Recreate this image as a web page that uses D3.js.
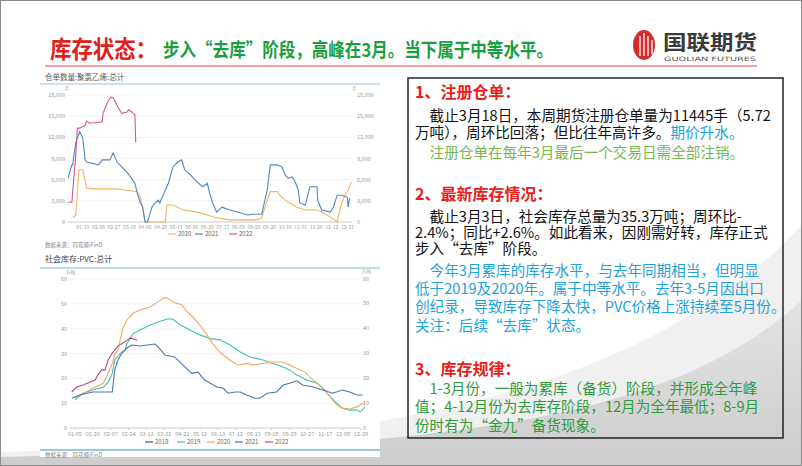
<!DOCTYPE html>
<html><head><meta charset="utf-8">
<script src="https://cdn.jsdelivr.net/npm/d3@7"></script>
<style>body{margin:0;background:#fff}svg{display:block}</style>
</head><body>
<svg id="c" width="802" height="466"></svg>
<script>
// ---------- DATA ----------
// Top chart: 仓单数量:聚氯乙烯:总计 (x = position in days along the seasonal axis)
const topXLabels = ["01-19","02-08","02-27","03-18","04-06","04-28","05-17","06-08","06-28","07-17","08-09","08-28","09-20","10-10","11-01","11-20","12-12","12-31"];
const topYTicks = [0,3000,6000,9000,12000,15000,18000];
const top2020Days = [6,10,12,14,19,24,32,63,76,89,93,96,99,125,127,135,148,166,179,191,208,243,249,256,260,269,272,279,285,294,305,320,328,337,343,346,350,353,357,360,364];
const top2020Vals = [600,1000,4100,7400,7400,4800,4700,4700,4500,4300,3500,2100,0,0,2400,2400,1700,1400,1000,600,300,300,600,3100,4300,4300,3800,3100,2700,2100,1700,1700,1300,700,300,0,2000,3100,4100,4500,5700];
const top2021Days = [0,5,6,10,15,19,22,24,28,39,44,54,58,63,69,77,86,89,93,96,99,102,108,112,116,118,125,129,135,141,146,150,157,166,173,179,182,186,191,198,208,221,231,238,249,251,256,260,269,275,279,283,288,292,296,298,305,311,320,321,326,337,341,346,352,359,360,362];
const top2021Vals = [6200,8100,8100,11300,12800,11900,8800,8500,8400,8100,8800,8800,9800,8500,7800,6900,5500,4100,2700,2100,0,0,2100,2700,3100,2700,4500,5500,7800,8500,8800,7400,6700,5700,5000,5500,4100,2700,1400,2100,1700,1300,1000,1100,1100,2100,4500,8100,8100,7800,6700,6200,6400,5700,4500,2700,2400,5000,5000,3100,1700,1400,2100,3800,3800,3500,2100,3400];
const top2022Days = [0,5,6,10,12,15,22,24,28,44,45,51,55,58,64,69,76,78,82,86,87];
const top2022Vals = [2800,2800,4300,9500,13300,13300,13700,14300,14000,14200,15400,17000,17700,17600,16300,15400,15600,15900,15600,15200,11300];

// Bottom chart: 社会库存:PVC:总计 (万吨)
const botXLabels = ["01-05","01-20","02-07","02-24","03-13","03-31","04-21","05-12","06-13","07-12","08-15","09-08","09-29","10-27","11-17","12-08","12-29"];
const botYTicks = [0,10,20,30,40,50,60];
const bot2018Days = [];
const bot2018Vals = [];
const bot2019Days = [5,9,15,27,40,46,51,54,61,67,69,77,85,98,110,120,126,135,147,159,172,184,196,209,221,237,249,262,270,279,291,304,311,320,328,335,344,353,357,363];
const bot2019Vals = [11.3,12.5,14,15.3,16.5,18.5,22,27.4,30,31.4,34,38,39.5,41.5,43,44,43.8,41.5,39.5,37.5,36,35.5,33.5,30.6,28.6,27.4,26,24.6,23.4,21.3,19.3,18,16,12.5,10,8,7.2,7.2,6.4,8.5];
const bot2020Days = [5,11,27,40,45,51,54,58,64,69,77,85,98,107,114,119,126,137,143,151,159,168,175,184,196,206,217,225,237,249,261,270,279,289,299,310,320,328,335,344,353,363];
const bot2020Vals = [12,13.3,16,18,21.3,26,29.4,31.4,40,43.5,46.3,47.5,48.7,50.7,52.3,52.3,50.7,49.5,47,44.5,41.5,37.5,34,30.5,27.4,25.4,26,25.4,26,26.6,26.6,25.4,24,22.5,19.3,16.5,12.5,9.3,8,7.6,8.5,10.5];
const bot2021Days = [1,11,27,40,51,54,58,63,69,75,85,94,104,110,116,128,138,149,157,165,180,188,194,203,209,217,227,233,242,254,262,270,279,286,299,311,323,335,344,353,360];
const bot2021Vals = [12,13.3,14.5,14.5,14.5,23.4,27.4,30.2,32.2,33.4,33,33.4,33.8,31.8,29.4,28.6,25.4,22,22.5,19.3,16.5,16,14,14.5,14.5,13.3,12,12,14,14.5,17.3,18,19,17.3,16.5,15.3,14,15.3,14.5,13.3,13.3];
const bot2022Days = [1,7,15,24,30,33,38,42,46,51,58,66,73,82];
const bot2022Vals = [14.5,16.5,17.3,18.5,19.3,21.3,23.4,23.4,27.4,30.2,33,34.6,36.2,35.3];

// ---------- DRAW ----------
const svg = d3.select('#c');
const FONT = '"Noto Sans CJK SC","Noto Sans",sans-serif';
const defs = svg.append('defs');
const gb = defs.append('linearGradient').attr('id','band').attr('x1',0).attr('y1',0).attr('x2',0).attr('y2',1);
gb.append('stop').attr('offset',0).attr('stop-color','#e3e3e3');
gb.append('stop').attr('offset',1).attr('stop-color','#cdcdcd');

// decorative gray bands
svg.append('path').attr('d','M0,466 L0,452 C350,446 640,400 802,225 L802,466 Z').attr('fill','#f0f0f0');
svg.append('path').attr('d','M0,466 L0,457 C400,447 660,432 802,300 L802,466 Z').attr('fill','url(#band)');

// left panel white
svg.append('rect').attr('x',40).attr('y',70).attr('width',340).attr('height',387).attr('fill','#fff');

// Title
svg.append('text').attr('x',50).attr('y',58).attr('font-family',FONT).attr('font-size',24).attr('font-weight','bold')
  .attr('fill','#e0201c').attr('textLength',107).attr('lengthAdjust','spacingAndGlyphs').text('库存状态：');
svg.append('text').attr('x',163).attr('y',57).attr('font-family',FONT).attr('font-size',19).attr('font-weight','bold')
  .attr('fill','#18a040').attr('textLength',390).attr('lengthAdjust','spacingAndGlyphs').text('步入“去库”阶段，高峰在3月。当下属于中等水平。');
svg.append('line').attr('x1',45).attr('x2',757).attr('y1',66).attr('y2',66).attr('stroke','#f0a0a0').attr('stroke-width',2);

// Logo
svg.append('ellipse').attr('cx',644).attr('cy',45).attr('rx',11).attr('ry',15).attr('fill','#d52a2e');
[[640,36,56],[644,33,56],[648,36,56],[652,40,54]].forEach(d=>{
  svg.append('line').attr('x1',d[0]).attr('x2',d[0]).attr('y1',d[1]).attr('y2',d[2]).attr('stroke','#fff').attr('stroke-width',1.3);
});
svg.append('text').attr('x',663).attr('y',50).attr('font-family',FONT).attr('font-size',20).attr('font-weight','bold')
  .attr('fill','#3a3a3a').attr('textLength',94).attr('lengthAdjust','spacingAndGlyphs').text('国联期货');
svg.append('text').attr('x',664).attr('y',61).attr('font-family','"DejaVu Sans",sans-serif').attr('font-size',6)
  .attr('fill','#555').attr('textLength',92).attr('lengthAdjust','spacingAndGlyphs').text('GUOLIAN FUTURES');

function legend(x, y, color, label){
  svg.append('line').attr('x1',x).attr('x2',x+8).attr('y1',y-2).attr('y2',y-2).attr('stroke',color).attr('stroke-width',1.2);
  svg.append('text').attr('x',x+10).attr('y',y).attr('font-family',FONT).attr('font-size',6).attr('fill','#666').text(label);
}
const small = (x,y,t,anchor,size,fill)=>svg.append('text').attr('x',x).attr('y',y).attr('text-anchor',anchor||'start')
  .attr('font-family',FONT).attr('font-size',size||5.5).attr('fill',fill||'#999').text(t);

// ---- top chart ----
small(45,80,'仓单数量:聚氯乙烯:总计','start',7.5,'#555');
svg.append('line').attr('x1',40).attr('x2',380).attr('y1',84).attr('y2',84).attr('stroke','#9cc3d5').attr('stroke-width',1.2);
const xT = d3.scaleLinear().domain([0,365]).range([68,352]);
const yT = d3.scaleLinear().domain([0,18000]).range([222,95]);
const fmt = d3.format(',');
topYTicks.forEach(v=>{
  svg.append('line').attr('x1',68).attr('x2',352).attr('y1',yT(v)).attr('y2',yT(v)).attr('stroke', v===0?'#bbb':'#f0f0f0').attr('stroke-width',0.8);
  small(65,yT(v)+2,fmt(v),'end',5.5);
  small(357,yT(v)+2,fmt(v),'start',5.5);
});
small(69,90,'手','end',4.5); small(352,90,'手','start',4.5);
const topStep = (359-19)/(topXLabels.length-1);
topXLabels.forEach((l,i)=>small(xT(19+i*topStep),229,l,'middle',5));
const lineT = d3.line().x(d=>xT(d[0])).y(d=>yT(d[1]));
const topSeries = [[top2020Days,top2020Vals,'#f5b462'],[top2021Days,top2021Vals,'#4f86c0'],[top2022Days,top2022Vals,'#d6588f']];
topSeries.forEach(s=>{
  svg.append('path').datum(d3.zip(s[0],s[1])).attr('d',lineT).attr('fill','none').attr('stroke',s[2]).attr('stroke-width',1.1);
});
legend(168,236,'#f5b462','2020'); legend(195,236,'#4f86c0','2021'); legend(229,236,'#d6588f','2022');
small(45,247,'数据来源：同花顺iFinD','start',5.5,'#888');

// ---- bottom chart ----
small(45,262,'社会库存:PVC:总计','start',8,'#444');
svg.append('line').attr('x1',40).attr('x2',380).attr('y1',268).attr('y2',268).attr('stroke','#7dbfcc').attr('stroke-width',1.2);
const xB = d3.scaleLinear().domain([5,363]).range([75,365]);
const yB = d3.scaleLinear().domain([0,60]).range([428,279]);
botYTicks.forEach(v=>{
  svg.append('line').attr('x1',70).attr('x2',360).attr('y1',yB(v)).attr('y2',yB(v)).attr('stroke', v===0?'#bbb':'#f0f0f0').attr('stroke-width',0.8);
  small(67,yB(v)+2,String(v),'end',5.5);
  small(363,yB(v)+1.5,String(v),'start',5.5);
});
small(66,274,'万吨','start',4.5); small(362,273,'万吨','start',4.5);
const botStep = (358-5)/(botXLabels.length-1);
botXLabels.forEach((l,i)=>{
  const x = xB(5+i*botStep);
  svg.append('line').attr('x1',x).attr('x2',x).attr('y1',428).attr('y2',430).attr('stroke','#bbb').attr('stroke-width',0.6);
  small(x,436,l,'middle',5.5);
});
const lineB = d3.line().x(d=>xB(d[0])).y(d=>yB(d[1]));
const botSeries = [[bot2018Days,bot2018Vals,'#3f4a9a','2018'],[bot2019Days,bot2019Vals,'#3fc0b2','2019'],[bot2020Days,bot2020Vals,'#f2a860','2020'],[bot2021Days,bot2021Vals,'#4a77b0','2021'],[bot2022Days,bot2022Vals,'#c2447c','2022']];
botSeries.forEach(s=>{
  if(!s[0].length) return;
  svg.append('path').datum(d3.zip(s[0],s[1])).attr('d',lineB).attr('fill','none').attr('stroke',s[2]).attr('stroke-width',1.1);
});
const legX = [145,177,207,235,265];
botSeries.forEach((s,i)=>legend(legX[i],444,s[2],s[3]));
svg.append('line').attr('x1',40).attr('x2',380).attr('y1',450).attr('y2',450).attr('stroke','#7ab2dc').attr('stroke-width',1.5);
small(45,456.5,'数据来源：同花顺iFinD','start',5.5,'#888');

// ---- text box ----
svg.append('rect').attr('x',408).attr('y',78).attr('width',375).attr('height',360).attr('fill','none').attr('stroke','#222').attr('stroke-width',1.5);
const RED='#e8201c', BLK='#111', BLUE='#22a2dc', LG='#76b650', GR='#2f9a3e';
const boxLines = [
  [98,true,[['1、注册仓单：',RED]]],
  [121,false,[['　截止3月18日，本周期货注册仓单量为11445手（5.72',BLK]]],
  [138,false,[['万吨），周环比回落；但比往年高许多。',BLK],['期价升水。',BLUE]]],
  [158,false,[['　注册仓单在每年3月最后一个交易日需全部注销。',LG]]],
  [200,true,[['2、最新库存情况：',RED]]],
  [222,false,[['　截止3月3日，社会库存总量为35.3万吨；周环比-',BLK]]],
  [238,false,[['2.4%；同比+2.6%。如此看来，因刚需好转，库存正式',BLK]]],
  [254,false,[['步入“去库”阶段。',BLK]]],
  [276,false,[['　今年3月累库的库存水平，与去年同期相当，但明显',BLUE]]],
  [294,false,[['低于2019及2020年。属于中等水平。去年3-5月因出口',BLUE]]],
  [312,false,[['创纪录，导致库存下降太快，PVC价格上涨持续至5月份。',BLUE]]],
  [331,false,[['关注：后续“去库”状态。',BLUE]]],
  [375,true,[['3、库存规律：',RED]]],
  [394,false,[['　1-3月份，一般为累库（备货）阶段，并形成全年峰',GR]]],
  [412,false,[['值；4-12月份为去库存阶段，12月为全年最低；8-9月',GR]]],
  [431,false,[['份时有为“金九”备货现象。',GR]]]
];
boxLines.forEach(l=>{
  const t = svg.append('text').attr('x',415).attr('y',l[0]).attr('font-family',FONT)
    .attr('font-size', l[1]?16:14.6).attr('font-weight', l[1]?'bold':'normal');
  l[2].forEach(s=>t.append('tspan').attr('fill',s[1]).text(s[0]));
});

// slide border
svg.append('rect').attr('x',0.5).attr('y',0.5).attr('width',801).attr('height',465).attr('fill','none').attr('stroke','#8a8a8a').attr('stroke-width',1);
</script>
</body></html>
